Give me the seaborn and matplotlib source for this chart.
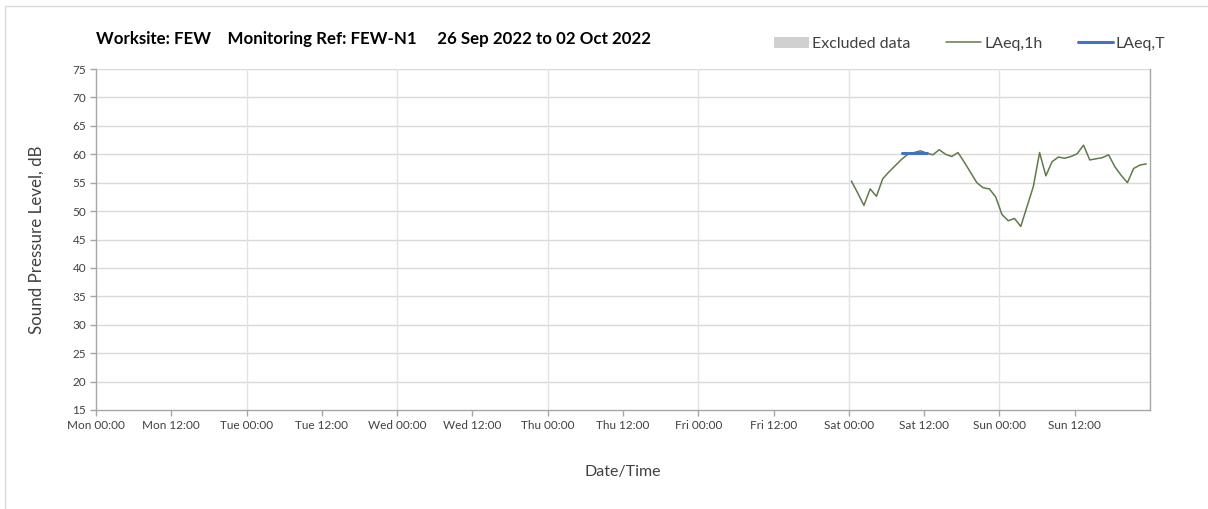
import numpy as np
import pandas as pd
import seaborn as sns
import matplotlib.pyplot as plt
from matplotlib.patches import Patch, Rectangle
from matplotlib.lines import Line2D

# hours since Mon 00:00 for the week axis
tick_labels = ["Mon 00:00", "Mon 12:00", "Tue 00:00", "Tue 12:00", "Wed 00:00",
               "Wed 12:00", "Thu 00:00", "Thu 12:00", "Fri 00:00", "Fri 12:00",
               "Sat 00:00", "Sat 12:00", "Sun 00:00", "Sun 12:00"]

# hourly LAeq,1h readings, Sat 00:00 -> Sun 23:00 (hour index from Sat 00:00)
hour_index = list(range(48))
laeq_1h = [55.3, 53.2, 51.0, 53.9, 52.6, 55.7, 56.9, 58.0, 59.1, 60.0,
           60.3, 60.6, 60.2, 59.9, 60.8, 60.0, 59.6, 60.3, 58.6, 56.8,
           55.0, 54.1, 53.9, 52.5, 49.4, 48.3, 48.7, 47.3, 50.8, 54.3,
           60.3, 56.2, 58.7, 59.5, 59.3, 59.6, 60.1, 61.6, 59.0, 59.2,
           59.4, 59.9, 57.8, 56.3, 55.0, 57.5, 58.1, 58.3]

# LAeq,T period (hours from Sat 00:00) and level
laeq_t_hours = [8.4, 12.4]
laeq_t_value = [60.2, 60.2]

sat_start = 120  # Sat 00:00 in hours from Mon 00:00
offset = 0.4

df = pd.DataFrame({
    "t": [sat_start + h + offset for h in hour_index],
    "LAeq,1h": laeq_1h,
})
df_t = pd.DataFrame({
    "t": [sat_start + h for h in laeq_t_hours],
    "LAeq,T": laeq_t_value,
})

sns.set_theme(style="white")
plt.rcParams["font.family"] = ["Lato", "DejaVu Sans"]

green = "#5f7a4c"
blue = "#4472c4"
grey_grid = "#d9d9d9"
axis_grey = "#a6a6a6"
text_col = "#404040"

fig = plt.figure(figsize=(12.08, 5.09), dpi=100)
ax = fig.add_axes([96 / 1208, 1 - 410 / 509, (1150 - 96) / 1208, (410 - 69) / 509])

# light frame around the chart area
fig.add_artist(Rectangle((5 / 1208, -0.02), 1.1, 1 - 6 / 509 + 0.02,
                         transform=fig.transFigure, fill=False,
                         edgecolor="#d9d9d9", linewidth=1))

sns.lineplot(data=df, x="t", y="LAeq,1h", ax=ax, color=green, linewidth=1.1)
sns.lineplot(data=df_t, x="t", y="LAeq,T", ax=ax, color=blue, linewidth=2.2)

ax.set_xlim(0, 168)
ax.set_ylim(15, 75)
ax.set_xticks(np.arange(0, 168, 12))
ax.set_xticklabels(tick_labels, fontsize=8.5, color=text_col)
ax.set_yticks(np.arange(15, 76, 5))
ax.tick_params(axis="y", labelsize=8.5, labelcolor=text_col)
ax.tick_params(axis="both", which="both", length=4, width=1, color=axis_grey,
               direction="out", bottom=True, left=True, pad=3)

# grid: horizontal every 5 dB, vertical at midnight
for y in np.arange(20, 76, 5):
    ax.axhline(y, color=grey_grid, linewidth=1, zorder=0)
for x in np.arange(24, 168, 24):
    ax.axvline(x, color="#e3e3e3", linewidth=1, zorder=0)

for side in ["left", "bottom", "right"]:
    ax.spines[side].set_visible(True)
    ax.spines[side].set_color(axis_grey)
    ax.spines[side].set_linewidth(1)
ax.spines["top"].set_visible(False)

ax.set_xlabel("Date/Time", fontsize=11.5, color=text_col, labelpad=25)
ax.set_ylabel("Sound Pressure Level, dB", fontsize=12.2, color=text_col, labelpad=20)

fig.text(96 / 1208, 1 - 39 / 509, "Worksite: FEW    Monitoring Ref: FEW-N1     26 Sep 2022 to 02 Oct 2022",
         fontsize=12.2, fontweight="bold", color="black", va="center")

handles = [
    Patch(facecolor="#d0d0d0", edgecolor="none"),
    Line2D([0], [0], color=green, linewidth=1.1),
    Line2D([0], [0], color=blue, linewidth=2.2),
]
fig.legend(handles, ["Excluded data", "LAeq,1h", "LAeq,T"], ncol=3, frameon=False,
           loc="center right", bbox_to_anchor=(1180 / 1208, 1 - 44 / 509),
           fontsize=11.5, labelcolor=text_col, handlelength=2.2, handletextpad=0.2,
           columnspacing=2.2)

fig.savefig("out.png", dpi=100, facecolor="white")
